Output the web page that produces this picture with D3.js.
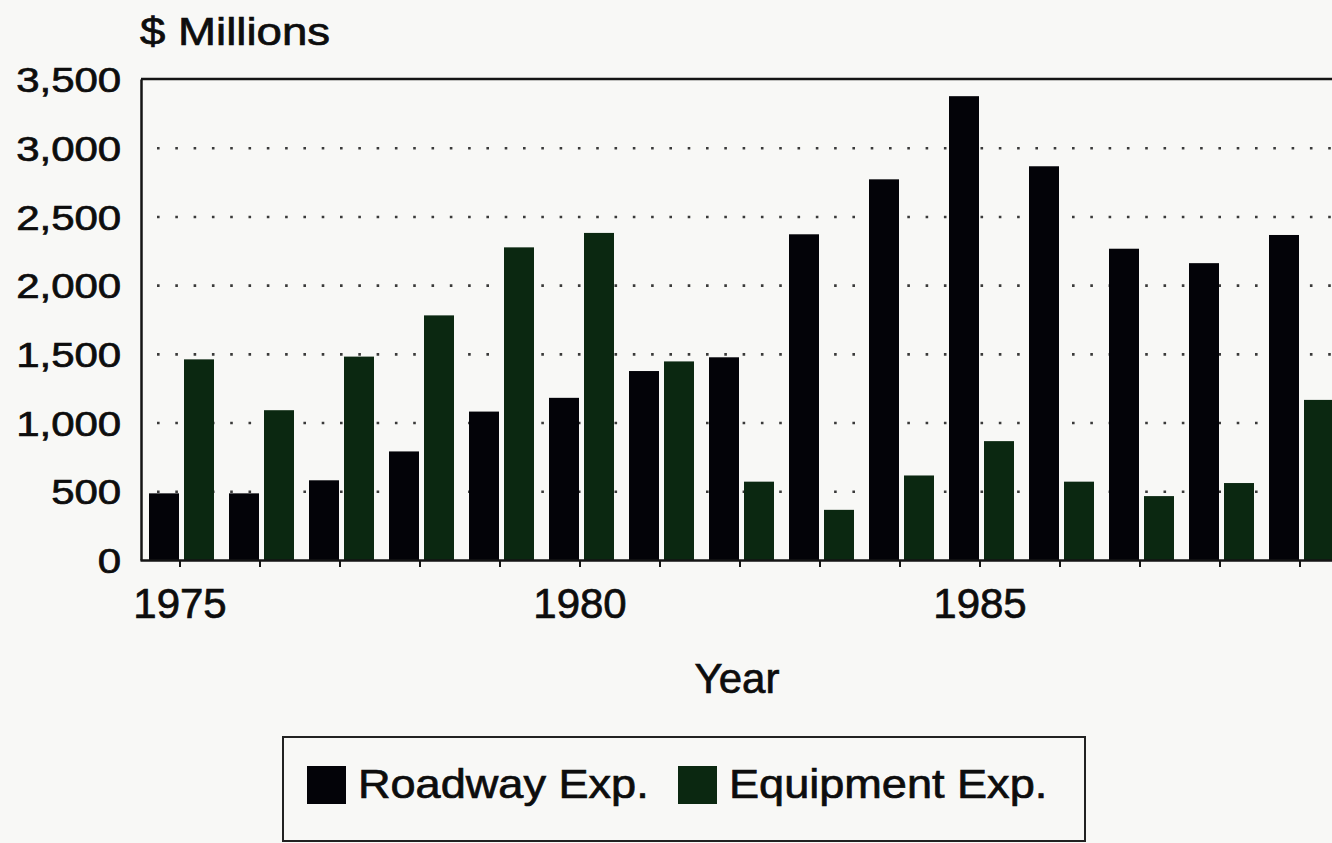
<!DOCTYPE html>
<html>
<head>
<meta charset="utf-8">
<script src="https://cdn.jsdelivr.net/npm/d3@7"></script>
<style>
    body { margin: 0; background: #f8f8f6; }
    svg text { font-family: "Liberation Sans", Arial, Helvetica, sans-serif; fill: #0d0d0d; stroke: #0d0d0d; stroke-width: 0.7px; }
</style>
</head>
<body>
<div id="chart"></div>
<script>

var years = [1975, 1976, 1977, 1978, 1979, 1980, 1981, 1982, 1983, 1984, 1985, 1986, 1987, 1988, 1989];
var roadway = [485, 485, 580, 790, 1080, 1180, 1375, 1475, 2370, 2770, 3375, 2865, 2265, 2160, 2365];
var equipment = [1460, 1090, 1480, 1780, 2275, 2380, 1445, 570, 365, 615, 865, 570, 465, 560, 1165];
var seriesNames = ['Roadway Exp.', 'Equipment Exp.'];
var yTicks = [0, 500, 1000, 1500, 2000, 2500, 3000, 3500];
var gridTicks = [500, 1000, 1500, 2000, 2500, 3000];
var yearLabels = [1975, 1980, 1985];


function drawBarchart(chartId) {
    var width = 1332;
    var height = 843;
    var left = 141;
    var bottom = 560;
    var top = 79;

    var color = d3.scaleOrdinal().domain(seriesNames).range(['#030308', '#0b2811']);

    var rows = years.map((yr, i) => ({year: yr, values: [
        {name: seriesNames[0], value: roadway[i]},
        {name: seriesNames[1], value: equipment[i]}
    ]}));

    var x0 = d3.scaleBand().domain(years).range([140, 1340]);
    var x1 = d3.scaleBand().domain(seriesNames).range([9, 74]).paddingInner(0.143);
    var y = d3.scaleLinear().domain([0, 3500]).range([bottom, top]);

    var svg = d3.select(chartId)
        .append('svg')
        .attr('width', width)
        .attr('height', height);

    // dotted grid
    var grid = svg.append('g')
        .attr('transform', 'translate(' + left + ',0)')
        .call(d3.axisLeft(y).tickValues(gridTicks).tickSize(-(width - left)).tickFormat(''));
    grid.select('.domain').remove();
    grid.selectAll('line')
        .attr('x1', 16)
        .attr('stroke', '#3a3a3a')
        .attr('stroke-width', 2.6)
        .attr('stroke-dasharray', '2.6,15.7');

    // bars
    var groups = svg.selectAll('groups')
        .data(rows)
        .enter()
        .append('g')
        .attr('transform', d => 'translate(' + x0(d.year) + ',0)');

    groups.selectAll('rect')
        .data(d => d.values)
        .enter()
        .append('rect')
        .attr('x', d => x1(d.name))
        .attr('y', d => y(d.value))
        .attr('width', x1.bandwidth())
        .attr('height', d => bottom - y(d.value))
        .attr('fill', d => color(d.name));

    // frame: top line
    svg.append('line')
        .attr('x1', left).attr('x2', width + 10)
        .attr('y1', y(3500)).attr('y2', y(3500))
        .attr('stroke', '#151515')
        .attr('stroke-width', 2.5);

    // y axis
    var yAxis = svg.append('g')
        .attr('transform', 'translate(' + left + ',0)')
        .call(d3.axisLeft(y).tickValues(yTicks).tickSize(0).tickSizeOuter(0).tickFormat(d3.format(',')));
    yAxis.select('.domain').attr('stroke', '#151515').attr('stroke-width', 2.5);
    yAxis.selectAll('text')
        .attr('x', -16.5)
        .attr('dy', '0.36em')
        .attr('transform', 'scale(1.2,1)')
        .style('font-size', '35px');

    // x axis
    var xAxis = svg.append('g')
        .attr('transform', 'translate(0,' + bottom + ')')
        .call(d3.axisBottom(x0).tickSize(7).tickSizeOuter(0).tickPadding(21)
            .tickFormat(d => yearLabels.includes(d) ? d : ''));
    xAxis.select('.domain').attr('stroke', '#151515').attr('stroke-width', 2.5);
    xAxis.selectAll('.tick line').attr('stroke', '#151515').attr('stroke-width', 2);
    xAxis.selectAll('text').style('font-size', '42px');

    // titles
    svg.append('text')
        .attr('transform', 'translate(140,45) scale(1.2,1)')
        .style('font-size', '38px')
        .text('$ Millions');

    svg.append('text')
        .attr('x', 737)
        .attr('y', 693)
        .attr('text-anchor', 'middle')
        .style('font-size', '42px')
        .text('Year');

    // legend
    var legend = svg.append('g');
    legend.append('rect')
        .attr('x', 283)
        .attr('y', 737)
        .attr('width', 802)
        .attr('height', 104)
        .attr('fill', 'none')
        .attr('stroke', '#222')
        .attr('stroke-width', 2);

    var legendX = [307, 678];
    var items = legend.selectAll('items')
        .data(seriesNames)
        .enter()
        .append('g')
        .attr('transform', (d, i) => 'translate(' + legendX[i] + ',766)');

    items.append('rect')
        .attr('width', 39)
        .attr('height', 38)
        .attr('fill', d => color(d));

    items.append('text')
        .attr('transform', 'translate(51,32) scale(1.1,1)')
        .style('font-size', '41px')
        .text(d => d);
}

drawBarchart('#chart');
</script>
</body>
</html>
